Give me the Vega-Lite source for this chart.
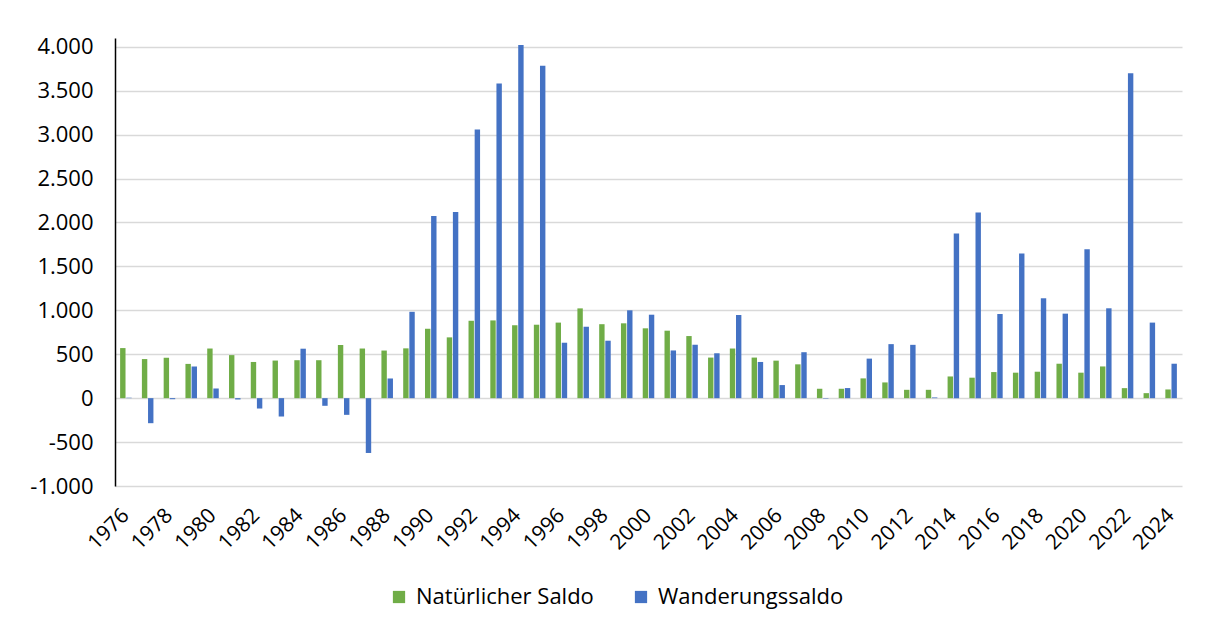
{
  "$schema": "https://vega.github.io/schema/vega-lite/v6.json",
  "width": 1067,
  "height": 448,
  "autosize": {"type": "none"},
  "padding": {"left": 115, "top": 38, "right": 33, "bottom": 142},
  "background": "white",
  "config": {
    "locale": {"number": {"decimal": ",", "thousands": ".", "grouping": [3], "currency": ["", " €"]}},
    "view": {"stroke": null},
    "font": "Open Sans"
  },
  "data": {"values": [
    {"year": 1976, "series": "Natürlicher Saldo", "value": 570}, {"year": 1976, "series": "Wanderungssaldo", "value": 5},
    {"year": 1977, "series": "Natürlicher Saldo", "value": 445}, {"year": 1977, "series": "Wanderungssaldo", "value": -285},
    {"year": 1978, "series": "Natürlicher Saldo", "value": 460}, {"year": 1978, "series": "Wanderungssaldo", "value": -12},
    {"year": 1979, "series": "Natürlicher Saldo", "value": 390}, {"year": 1979, "series": "Wanderungssaldo", "value": 361},
    {"year": 1980, "series": "Natürlicher Saldo", "value": 565}, {"year": 1980, "series": "Wanderungssaldo", "value": 110},
    {"year": 1981, "series": "Natürlicher Saldo", "value": 490}, {"year": 1981, "series": "Wanderungssaldo", "value": -15},
    {"year": 1982, "series": "Natürlicher Saldo", "value": 412}, {"year": 1982, "series": "Wanderungssaldo", "value": -118},
    {"year": 1983, "series": "Natürlicher Saldo", "value": 428}, {"year": 1983, "series": "Wanderungssaldo", "value": -209},
    {"year": 1984, "series": "Natürlicher Saldo", "value": 432}, {"year": 1984, "series": "Wanderungssaldo", "value": 563},
    {"year": 1985, "series": "Natürlicher Saldo", "value": 432}, {"year": 1985, "series": "Wanderungssaldo", "value": -87},
    {"year": 1986, "series": "Natürlicher Saldo", "value": 605}, {"year": 1986, "series": "Wanderungssaldo", "value": -190},
    {"year": 1987, "series": "Natürlicher Saldo", "value": 565}, {"year": 1987, "series": "Wanderungssaldo", "value": -624},
    {"year": 1988, "series": "Natürlicher Saldo", "value": 542}, {"year": 1988, "series": "Wanderungssaldo", "value": 224},
    {"year": 1989, "series": "Natürlicher Saldo", "value": 567}, {"year": 1989, "series": "Wanderungssaldo", "value": 983},
    {"year": 1990, "series": "Natürlicher Saldo", "value": 790}, {"year": 1990, "series": "Wanderungssaldo", "value": 2075},
    {"year": 1991, "series": "Natürlicher Saldo", "value": 692}, {"year": 1991, "series": "Wanderungssaldo", "value": 2120},
    {"year": 1992, "series": "Natürlicher Saldo", "value": 881}, {"year": 1992, "series": "Wanderungssaldo", "value": 3059},
    {"year": 1993, "series": "Natürlicher Saldo", "value": 885}, {"year": 1993, "series": "Wanderungssaldo", "value": 3583},
    {"year": 1994, "series": "Natürlicher Saldo", "value": 830}, {"year": 1994, "series": "Wanderungssaldo", "value": 4020},
    {"year": 1995, "series": "Natürlicher Saldo", "value": 836}, {"year": 1995, "series": "Wanderungssaldo", "value": 3784},
    {"year": 1996, "series": "Natürlicher Saldo", "value": 860}, {"year": 1996, "series": "Wanderungssaldo", "value": 631},
    {"year": 1997, "series": "Natürlicher Saldo", "value": 1022}, {"year": 1997, "series": "Wanderungssaldo", "value": 813},
    {"year": 1998, "series": "Natürlicher Saldo", "value": 842}, {"year": 1998, "series": "Wanderungssaldo", "value": 654},
    {"year": 1999, "series": "Natürlicher Saldo", "value": 852}, {"year": 1999, "series": "Wanderungssaldo", "value": 1000},
    {"year": 2000, "series": "Natürlicher Saldo", "value": 795}, {"year": 2000, "series": "Wanderungssaldo", "value": 950},
    {"year": 2001, "series": "Natürlicher Saldo", "value": 768}, {"year": 2001, "series": "Wanderungssaldo", "value": 543},
    {"year": 2002, "series": "Natürlicher Saldo", "value": 707}, {"year": 2002, "series": "Wanderungssaldo", "value": 608},
    {"year": 2003, "series": "Natürlicher Saldo", "value": 462}, {"year": 2003, "series": "Wanderungssaldo", "value": 511},
    {"year": 2004, "series": "Natürlicher Saldo", "value": 565}, {"year": 2004, "series": "Wanderungssaldo", "value": 947},
    {"year": 2005, "series": "Natürlicher Saldo", "value": 462}, {"year": 2005, "series": "Wanderungssaldo", "value": 412},
    {"year": 2006, "series": "Natürlicher Saldo", "value": 427}, {"year": 2006, "series": "Wanderungssaldo", "value": 149},
    {"year": 2007, "series": "Natürlicher Saldo", "value": 385}, {"year": 2007, "series": "Wanderungssaldo", "value": 523},
    {"year": 2008, "series": "Natürlicher Saldo", "value": 107}, {"year": 2008, "series": "Wanderungssaldo", "value": -5},
    {"year": 2009, "series": "Natürlicher Saldo", "value": 107}, {"year": 2009, "series": "Wanderungssaldo", "value": 115},
    {"year": 2010, "series": "Natürlicher Saldo", "value": 225}, {"year": 2010, "series": "Wanderungssaldo", "value": 450},
    {"year": 2011, "series": "Natürlicher Saldo", "value": 179}, {"year": 2011, "series": "Wanderungssaldo", "value": 615},
    {"year": 2012, "series": "Natürlicher Saldo", "value": 95}, {"year": 2012, "series": "Wanderungssaldo", "value": 607},
    {"year": 2013, "series": "Natürlicher Saldo", "value": 95}, {"year": 2013, "series": "Wanderungssaldo", "value": 8},
    {"year": 2014, "series": "Natürlicher Saldo", "value": 247}, {"year": 2014, "series": "Wanderungssaldo", "value": 1875},
    {"year": 2015, "series": "Natürlicher Saldo", "value": 233}, {"year": 2015, "series": "Wanderungssaldo", "value": 2114},
    {"year": 2016, "series": "Natürlicher Saldo", "value": 297}, {"year": 2016, "series": "Wanderungssaldo", "value": 958},
    {"year": 2017, "series": "Natürlicher Saldo", "value": 290}, {"year": 2017, "series": "Wanderungssaldo", "value": 1647},
    {"year": 2018, "series": "Natürlicher Saldo", "value": 301}, {"year": 2018, "series": "Wanderungssaldo", "value": 1137},
    {"year": 2019, "series": "Natürlicher Saldo", "value": 392}, {"year": 2019, "series": "Wanderungssaldo", "value": 962},
    {"year": 2020, "series": "Natürlicher Saldo", "value": 290}, {"year": 2020, "series": "Wanderungssaldo", "value": 1696},
    {"year": 2021, "series": "Natürlicher Saldo", "value": 361}, {"year": 2021, "series": "Wanderungssaldo", "value": 1023},
    {"year": 2022, "series": "Natürlicher Saldo", "value": 114}, {"year": 2022, "series": "Wanderungssaldo", "value": 3699},
    {"year": 2023, "series": "Natürlicher Saldo", "value": 57}, {"year": 2023, "series": "Wanderungssaldo", "value": 860},
    {"year": 2024, "series": "Natürlicher Saldo", "value": 99}, {"year": 2024, "series": "Wanderungssaldo", "value": 392}
  ]},
  "mark": {"type": "bar", "clip": false},
  "encoding": {
    "x": {
      "field": "year", "type": "ordinal",
      "scale": {"paddingInner": 0.47, "paddingOuter": 0.235},
      "axis": {
        "title": null, "domain": false, "ticks": false, "grid": false,
        "labelAngle": -45, "labelAlign": "right", "labelBaseline": "middle",
        "labelPadding": 26, "labelFontSize": 21, "labelColor": "#000000",
        "labelFont": "Open Sans",
        "labelExpr": "datum.value % 2 == 0 ? datum.label : ''"
      }
    },
    "xOffset": {
      "field": "series", "type": "nominal",
      "scale": {"domain": ["Natürlicher Saldo", "Wanderungssaldo"], "paddingInner": 0.12}
    },
    "y": {
      "field": "value", "type": "quantitative",
      "scale": {"domain": [-1000, 4100], "nice": false, "zero": false},
      "axis": {
        "title": null,
        "values": [-1000, -500, 0, 500, 1000, 1500, 2000, 2500, 3000, 3500, 4000],
        "format": ",d",
        "labelExpr": "replace(datum.label, '−', '-')",
        "ticks": false,
        "domain": true, "domainColor": "#000000", "domainWidth": 1.5,
        "grid": true, "gridColor": "#d9d9d9", "gridWidth": 1.5,
        "labelPadding": 22, "labelFontSize": 22, "labelColor": "#000000",
        "labelFont": "Open Sans"
      }
    },
    "color": {
      "field": "series", "type": "nominal",
      "scale": {"domain": ["Natürlicher Saldo", "Wanderungssaldo"], "range": ["#70AD47", "#4472C4"]},
      "legend": {
        "title": null, "orient": "none", "direction": "horizontal",
        "legendX": 273, "legendY": 548,
        "symbolType": "square", "symbolSize": 150, "symbolStrokeWidth": 0,
        "labelFontSize": 22, "labelColor": "#000000", "labelFont": "Open Sans",
        "labelLimit": 400,
        "columnPadding": 36, "labelOffset": 6
      }
    }
  }
}
